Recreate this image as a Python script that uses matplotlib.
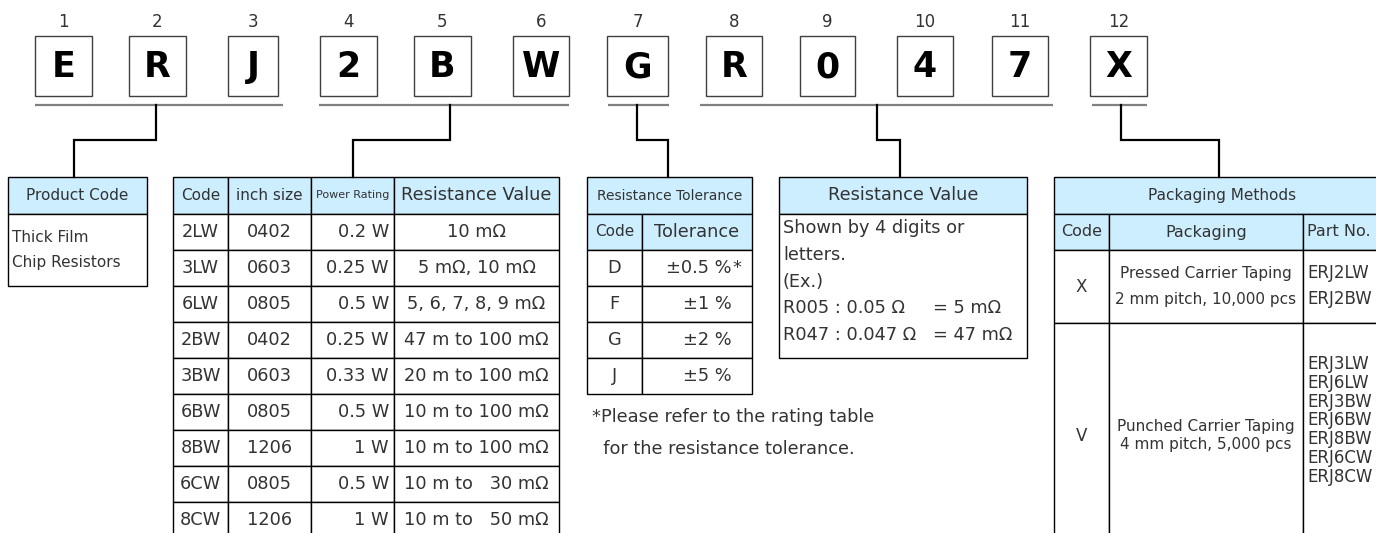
#!/usr/bin/env python3
"""Part number breakdown for ERJ thick film chip resistors."""

import matplotlib.pyplot as plt
from matplotlib.patches import Rectangle

# ---- data -------------------------------------------------------------
code_chars = list("ERJ2BWGR047X")
position_labels = [str(i) for i in range(1, 13)]

product_title = "Product Code"
product_lines = ["Thick Film", "Chip Resistors"]

size_header = ["Code", "inch size", "Power Rating", "Resistance Value"]
size_codes = ["2LW", "3LW", "6LW", "2BW", "3BW", "6BW", "8BW", "6CW", "8CW"]
inch_sizes = ["0402", "0603", "0805", "0402", "0603", "0805", "1206", "0805", "1206"]
power_ratings = ["0.2 W", "0.25 W", "0.5 W", "0.25 W", "0.33 W", "0.5 W", "1 W", "0.5 W", "1 W"]
resistance_ranges = ["10 mΩ", "5 mΩ, 10 mΩ", "5, 6, 7, 8, 9 mΩ", "47 m to 100 mΩ",
                     "20 m to 100 mΩ", "10 m to 100 mΩ", "10 m to 100 mΩ",
                     "10 m to   30 mΩ", "10 m to   50 mΩ"]

tol_title = "Resistance Tolerance"
tol_header = ["Code", "Tolerance"]
tol_codes = ["D", "F", "G", "J"]
tol_values = ["±0.5 %", "±1 %", "±2 %", "±5 %"]
tol_marks = ["*", "", "", ""]
tol_note = ["*Please refer to the rating table", "  for the resistance tolerance."]

rv_title = "Resistance Value"
rv_lines = ["Shown by 4 digits or", "letters.", "(Ex.)"]
rv_examples = ["R005 : 0.05 Ω", "R047 : 0.047 Ω"]
rv_results = ["= 5 mΩ", "= 47 mΩ"]

pack_title = "Packaging Methods"
pack_header = ["Code", "Packaging", "Part No."]
pack_codes = ["X", "V"]
pack_methods = [["Pressed Carrier Taping", "2 mm pitch, 10,000 pcs"],
                ["Punched Carrier Taping", "4 mm pitch, 5,000 pcs"]]
pack_parts = [["ERJ2LW", "ERJ2BW"],
              ["ERJ3LW", "ERJ6LW", "ERJ3BW", "ERJ6BW", "ERJ8BW", "ERJ6CW", "ERJ8CW"]]

# ---- layout (pixels) --------------------------------------------------
W, H = 1376, 533
BOX_X = [(35, 92), (129, 186), (228, 278), (320, 377), (414, 471), (513, 569),
         (607, 668), (706, 762), (800, 855), (897, 953), (992, 1048), (1090, 1147)]
BOX_Y = (36, 96)
UNDER_Y = 105
GROUPS = [(35, 283), (319, 569), (608, 669), (700, 1053), (1092, 1147)]
# (x at underline, x at table top)
LINKS = [(156, 74), (450, 353), (637, 668), (877, 900), (1121, 1219)]
STEP_Y = 140
TOP = 177
HEAD = 214
ROW = 36

BLUE = "#cceeff"
INK = "#333333"
BODY = 12.8

plt.rcParams["font.family"] = "DejaVu Sans"


def cell(ax, x0, y0, x1, y1, fill="white"):
    ax.add_patch(Rectangle((x0, y0), x1 - x0, y1 - y0, facecolor=fill,
                           edgecolor="black", linewidth=1.0))


def txt(ax, x, y, s, size=BODY, ha="center", **kw):
    ax.text(x, y, s, fontsize=size, ha=ha, va="center", color=kw.pop("color", INK), **kw)


def main() -> None:
    fig = plt.figure(figsize=(W / 100, H / 100), dpi=100)
    ax = fig.add_axes([0, 0, 1, 1])
    ax.set_xlim(0, W)
    ax.set_ylim(H, 0)
    ax.axis("off")

    # part number boxes
    for (x0, x1), ch, pos in zip(BOX_X, code_chars, position_labels):
        ax.add_patch(Rectangle((x0, BOX_Y[0]), x1 - x0, BOX_Y[1] - BOX_Y[0],
                               facecolor="white", edgecolor="#404040", linewidth=1.0))
        xc = (x0 + x1) / 2
        txt(ax, xc, (BOX_Y[0] + BOX_Y[1]) / 2 + 1, ch, size=25, fontweight="bold", color="black")
        txt(ax, xc, 22, pos, size=12)

    for x0, x1 in GROUPS:
        ax.plot([x0, x1], [UNDER_Y, UNDER_Y], color="#808080", linewidth=1.6, solid_capstyle="butt")

    for xa, xb in LINKS:
        ax.plot([xa, xa, xb, xb], [UNDER_Y, STEP_Y, STEP_Y, TOP], color="black",
                linewidth=1.6, solid_joinstyle="miter")

    # product code
    cell(ax, 8, TOP, 147, HEAD, BLUE)
    cell(ax, 8, HEAD, 147, 286)
    txt(ax, 77.5, (TOP + HEAD) / 2, product_title, size=11)
    for i, line in enumerate(product_lines):
        txt(ax, 12, 238 + 24 * i, line, size=11, ha="left")

    # size / power / resistance table
    cols = [173, 228, 311, 394, 559]
    head_sizes = [11, 11, 8, 12.8]
    for j, lab in enumerate(size_header):
        cell(ax, cols[j], TOP, cols[j + 1], HEAD, BLUE)
        txt(ax, (cols[j] + cols[j + 1]) / 2, (TOP + HEAD) / 2, lab, size=head_sizes[j])
    for i, row in enumerate(zip(size_codes, inch_sizes, power_ratings, resistance_ranges)):
        y0 = HEAD + ROW * i
        yc = y0 + ROW / 2
        for j in range(4):
            cell(ax, cols[j], y0, cols[j + 1], y0 + ROW)
        txt(ax, (cols[0] + cols[1]) / 2, yc, row[0])
        txt(ax, (cols[1] + cols[2]) / 2, yc, row[1])
        txt(ax, cols[3] - 5, yc, row[2], ha="right")
        txt(ax, (cols[3] + cols[4]) / 2, yc, row[3])

    # tolerance table
    tcols = [587, 642, 752]
    cell(ax, tcols[0], TOP, tcols[2], HEAD, BLUE)
    txt(ax, (tcols[0] + tcols[2]) / 2, (TOP + HEAD) / 2, tol_title, size=10)
    for j, lab in enumerate(tol_header):
        cell(ax, tcols[j], HEAD, tcols[j + 1], HEAD + ROW, BLUE)
        txt(ax, (tcols[j] + tcols[j + 1]) / 2, HEAD + ROW / 2, lab, size=[11, 12.8][j])
    for i, (c, v, m) in enumerate(zip(tol_codes, tol_values, tol_marks)):
        y0 = HEAD + ROW * (i + 1)
        yc = y0 + ROW / 2
        cell(ax, tcols[0], y0, tcols[1], y0 + ROW)
        cell(ax, tcols[1], y0, tcols[2], y0 + ROW)
        txt(ax, (tcols[0] + tcols[1]) / 2, yc, c)
        txt(ax, 732, yc, v, ha="right")
        if m:
            txt(ax, 732, yc, m, ha="left")
    for i, line in enumerate(tol_note):
        txt(ax, 592, 417 + 32 * i, line, ha="left")

    # resistance value box
    cell(ax, 779, TOP, 1027, HEAD, BLUE)
    cell(ax, 779, HEAD, 1027, 358)
    txt(ax, 903, (TOP + HEAD) / 2, rv_title)
    for i, line in enumerate(rv_lines):
        txt(ax, 783, 228 + 27 * i, line, ha="left")
    for i, (lhs, rhs) in enumerate(zip(rv_examples, rv_results)):
        txt(ax, 783, 308 + 27 * i, lhs, ha="left")
        txt(ax, 933, 308 + 27 * i, rhs, ha="left")

    # packaging table
    pcols = [1054, 1109, 1303, 1392]
    cell(ax, pcols[0], TOP, pcols[3], HEAD, BLUE)
    txt(ax, 1222, (TOP + HEAD) / 2, pack_title, size=11)
    for j, lab in enumerate(pack_header):
        cell(ax, pcols[j], HEAD, pcols[j + 1], HEAD + ROW, BLUE)
        if j == 2:
            txt(ax, 1307, HEAD + ROW / 2, lab, size=11.5, ha="left")
        else:
            txt(ax, (pcols[j] + pcols[j + 1]) / 2, HEAD + ROW / 2, lab, size=11.5)
    rows_y = [(250, 323), (323, 545)]
    for (y0, y1), code, method, parts in zip(rows_y, pack_codes, pack_methods, pack_parts):
        for j in range(3):
            cell(ax, pcols[j], y0, pcols[j + 1], y1)
        tall = len(parts) > 2
        yc = 436 if tall else (y0 + y1) / 2
        py = 364 if tall else 273
        gap = 9 if tall else 13
        step = 18.8 if tall else 26
        txt(ax, (pcols[0] + pcols[1]) / 2, yc, code, size=12)
        txt(ax, (pcols[1] + pcols[2]) / 2, yc - gap, method[0], size=11)
        txt(ax, (pcols[1] + pcols[2]) / 2, yc + gap, method[1], size=11)
        for k, p in enumerate(parts):
            txt(ax, 1307, py + step * k, p, size=12, ha="left")

    fig.savefig("out.png", dpi=100)
    plt.close(fig)


if __name__ == "__main__":
    main()
